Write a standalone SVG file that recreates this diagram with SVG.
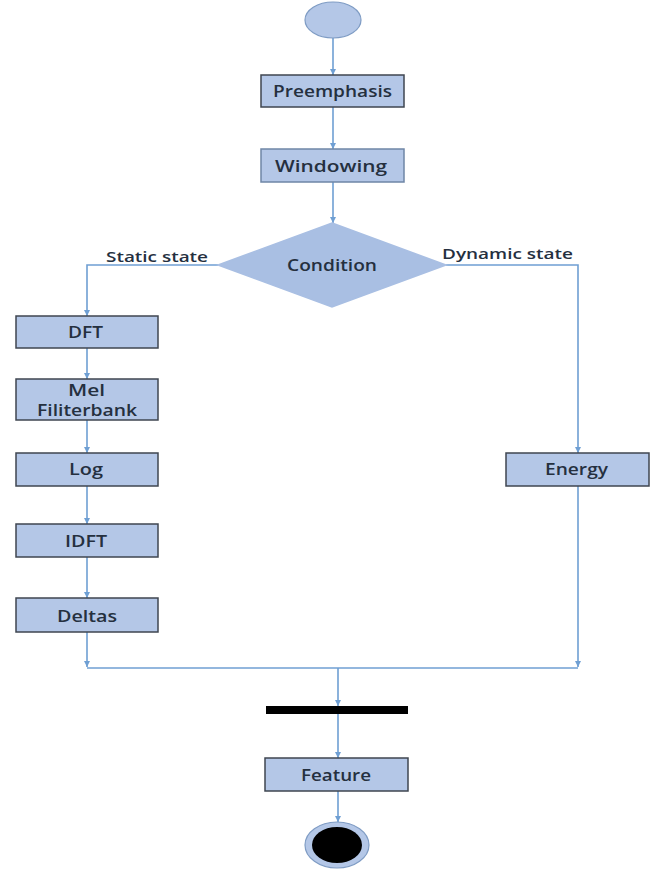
<svg xmlns="http://www.w3.org/2000/svg" width="668" height="873" viewBox="0 0 668 873">
<style>
.box{fill:#b4c7e7;stroke:#3f4650;stroke-width:1.5}
.lbl{font-family:"Open Sans","Liberation Sans",sans-serif;font-weight:600;font-size:16px;fill:#25303f}
.edge{fill:none;stroke:#6f9fd3;stroke-width:1.6}
.el{font-family:"Open Sans","Liberation Sans",sans-serif;font-weight:600;font-size:15px;fill:#25303f}
</style>
<defs>
<marker id="ah" viewBox="0 0 6 6" refX="6" refY="3" markerWidth="6" markerHeight="6" markerUnits="userSpaceOnUse" orient="auto">
<path d="M0,0 L6,3 L0,6 z" fill="#6f9fd3"/>
</marker>
</defs>
<rect width="668" height="873" fill="#ffffff"/>
<g id="connectors">
<line class="edge" x1="333" y1="38" x2="333" y2="75" marker-end="url(#ah)"/>
<line class="edge" x1="333" y1="107" x2="333" y2="149" marker-end="url(#ah)"/>
<line class="edge" x1="333" y1="182" x2="333" y2="223" marker-end="url(#ah)"/>
<polyline class="edge" points="218,265 87,265 87,316" marker-end="url(#ah)"/>
<polyline class="edge" points="446,265 578,265 578,453" marker-end="url(#ah)"/>
<line class="edge" x1="87" y1="348" x2="87" y2="379" marker-end="url(#ah)"/>
<line class="edge" x1="87" y1="420" x2="87" y2="453" marker-end="url(#ah)"/>
<line class="edge" x1="87" y1="486" x2="87" y2="524" marker-end="url(#ah)"/>
<line class="edge" x1="87" y1="557" x2="87" y2="598" marker-end="url(#ah)"/>
<line class="edge" x1="87" y1="632" x2="87" y2="667" marker-end="url(#ah)"/>
<line class="edge" x1="578" y1="486" x2="578" y2="667" marker-end="url(#ah)"/>
<line class="edge" x1="87" y1="668" x2="578" y2="668"/>
<line class="edge" x1="338" y1="668" x2="338" y2="706" marker-end="url(#ah)"/>
<line class="edge" x1="338" y1="714" x2="338" y2="758" marker-end="url(#ah)"/>
<line class="edge" x1="338" y1="791" x2="338" y2="822" marker-end="url(#ah)"/>
<text class="el" x="106" y="262" textLength="102" lengthAdjust="spacingAndGlyphs">Static state</text>
<text class="el" x="442" y="259" textLength="131" lengthAdjust="spacingAndGlyphs">Dynamic state</text>
</g>
<g id="start"><ellipse cx="333" cy="20" rx="28" ry="18" fill="#b4c7e7" stroke="#7f9cc4" stroke-width="1.2"/></g>
<g id="preemphasis"><rect class="box" x="261" y="75" width="143" height="32"/><text class="lbl" x="273" y="97" textLength="119" lengthAdjust="spacingAndGlyphs">Preemphasis</text></g>
<g id="windowing"><rect class="box" x="261" y="149" width="143" height="33" style="stroke:#6f86a6"/><text class="lbl" x="275" y="172" textLength="112" lengthAdjust="spacingAndGlyphs">Windowing</text></g>
<g id="condition"><polygon class="box" points="332,223 446,265 332,307 218,265" style="fill:#a9bfe3;stroke:#a9bfe3"/><text class="lbl" x="287" y="271" textLength="90" lengthAdjust="spacingAndGlyphs">Condition</text></g>
<g id="dft"><rect class="box" x="16" y="316" width="142" height="32"/><text class="lbl" x="68" y="338" textLength="35" lengthAdjust="spacingAndGlyphs">DFT</text></g>
<g id="mel"><rect class="box" x="16" y="379" width="142" height="41"/><text class="lbl" x="68" y="396" textLength="37" lengthAdjust="spacingAndGlyphs">Mel</text><text class="lbl" x="37" y="416" textLength="100" lengthAdjust="spacingAndGlyphs">Filiterbank</text></g>
<g id="log"><rect class="box" x="16" y="453" width="142" height="33"/><text class="lbl" x="69" y="475" textLength="34" lengthAdjust="spacingAndGlyphs">Log</text></g>
<g id="idft"><rect class="box" x="16" y="524" width="142" height="33"/><text class="lbl" x="65" y="547" textLength="42" lengthAdjust="spacingAndGlyphs">IDFT</text></g>
<g id="deltas"><rect class="box" x="16" y="598" width="142" height="34"/><text class="lbl" x="57" y="622" textLength="60" lengthAdjust="spacingAndGlyphs">Deltas</text></g>
<g id="energy"><rect class="box" x="506" y="453" width="143" height="33"/><text class="lbl" x="545" y="475" textLength="63" lengthAdjust="spacingAndGlyphs">Energy</text></g>
<g id="join"><rect x="266" y="706" width="142" height="8" fill="#000000"/></g>
<g id="feature"><rect class="box" x="265" y="758" width="143" height="33"/><text class="lbl" x="301" y="781" textLength="70" lengthAdjust="spacingAndGlyphs">Feature</text></g>
<g id="end"><ellipse cx="337" cy="845" rx="32" ry="23" fill="#b4c7e7" stroke="#7f9cc4" stroke-width="1.2"/><ellipse cx="337" cy="845" rx="25" ry="18" fill="#000000"/></g>
</svg>
